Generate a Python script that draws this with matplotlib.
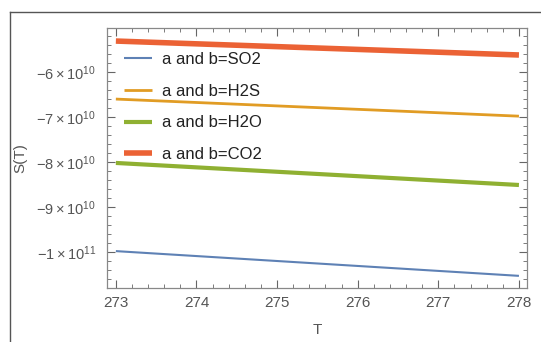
import matplotlib
matplotlib.use("Agg")
import matplotlib.pyplot as plt
from matplotlib.ticker import FixedLocator, MultipleLocator, FuncFormatter
from matplotlib.lines import Line2D

T = [273, 278]
s_so2 = [-9.98e10, -1.053e11]
s_h2s = [-6.60e10, -6.98e10]
s_h2o = [-8.02e10, -8.51e10]
s_co2 = [-5.31e10, -5.62e10]
labels = ["a and b=SO2", "a and b=H2S", "a and b=H2O", "a and b=CO2"]
yticks = [-6e10, -7e10, -8e10, -9e10, -1e11]
ytick_labels = [r"$-6\times10^{10}$", r"$-7\times10^{10}$", r"$-8\times10^{10}$",
                r"$-9\times10^{10}$", r"$-1\times10^{11}$"]

colors = ["#5E81B5", "#E19C24", "#8FB032", "#EB6235"]
widths = [1.5, 2.0, 3.0, 4.0]

plt.rcParams["font.family"] = ["Liberation Sans", "DejaVu Sans"]
plt.rcParams["mathtext.fontset"] = "custom"
plt.rcParams["mathtext.rm"] = "Liberation Sans"
plt.rcParams["mathtext.it"] = "Liberation Sans:italic"
plt.rcParams["mathtext.bf"] = "Liberation Sans:bold"
plt.rcParams["mathtext.sf"] = "Liberation Sans"

fig = plt.figure(figsize=(5.41, 3.42), dpi=100)
# outer frame
fig.add_artist(Line2D([10/541, 540/541], [1-12/342, 1-12/342], transform=fig.transFigure,
                      color="#555555", lw=1.0))
fig.add_artist(Line2D([10/541, 10/541], [1-12/342, 0], transform=fig.transFigure,
                      color="#555555", lw=1.0))

ax = fig.add_axes([107/541, 1-288/342, 420/541, 260/342])
for y, c, w, lab in zip([s_so2, s_h2s, s_h2o, s_co2], colors, widths, labels):
    ax.plot(T, y, color=c, lw=w, label=lab, solid_capstyle="butt")

ax.set_xlim(272.89, 278.1)
ax.set_ylim(-1.08e11, -5.02e10)
ax.xaxis.set_major_locator(MultipleLocator(1))
ax.xaxis.set_minor_locator(MultipleLocator(0.2))
ax.yaxis.set_major_locator(FixedLocator(yticks))
ax.yaxis.set_minor_locator(MultipleLocator(2e9))
ax.yaxis.set_major_formatter(FuncFormatter(lambda v, p: ytick_labels[yticks.index(v)] if v in yticks else ""))
ax.tick_params(which="both", direction="in", top=True, right=True, colors="#666666",
               labelcolor="#555555", labelsize=10.5)
ax.tick_params(which="major", length=6, width=0.8)
ax.tick_params(which="minor", length=3, width=0.6)
ax.tick_params(axis="x", pad=6, labelsize=11)
ax.tick_params(axis="y", pad=8)
for sp in ax.spines.values():
    sp.set_color("#888888")
    sp.set_linewidth(0.9)
ax.set_xlabel("T", color="#555555", fontsize=11)
ax.xaxis.set_label_coords(0.5, -0.135)
ax.set_ylabel("S(T)", color="#555555", fontsize=11)
ax.yaxis.set_label_coords(-0.19, 0.5)

ax.legend(loc="upper left", bbox_to_anchor=(0.005, 0.965), frameon=False, fontsize=12,
          handlelength=1.7, handletextpad=0.6, labelspacing=1.0, labelcolor="#222222")

fig.savefig("out.png", dpi=100)
